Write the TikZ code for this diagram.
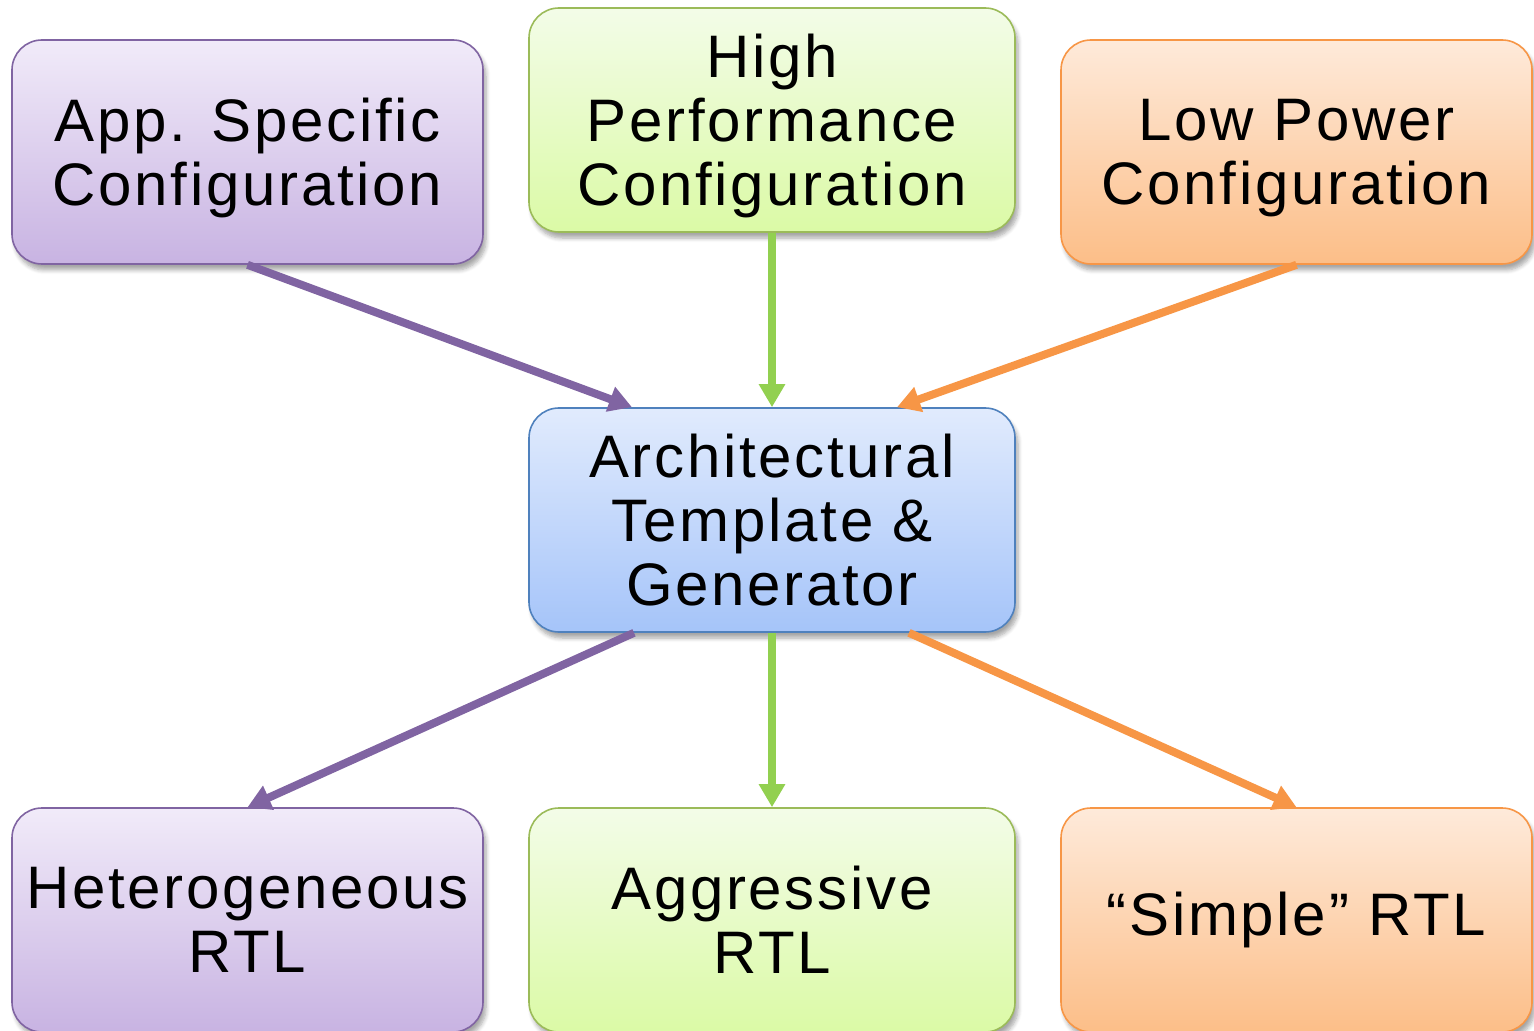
\documentclass[tikz,border=0pt]{standalone}
\usepackage{fontspec}
\setmainfont{Liberation Sans}[LetterSpace=4.5]
\usetikzlibrary{arrows.meta,shadows.blur}

\definecolor{purpLine}{HTML}{8064A2}
\definecolor{purpTop}{HTML}{F1EBF9}
\definecolor{purpBot}{HTML}{C8B3E2}
\definecolor{grnLine}{HTML}{9BBB59}
\definecolor{grnArrow}{HTML}{92D050}
\definecolor{grnTop}{HTML}{F3FCE8}
\definecolor{grnBot}{HTML}{DBFAA6}
\definecolor{orgLine}{HTML}{F79646}
\definecolor{orgTop}{HTML}{FEEADA}
\definecolor{orgBot}{HTML}{FCBE88}
\definecolor{bluLine}{HTML}{4F81BD}
\definecolor{bluTop}{HTML}{E1EBFD}
\definecolor{bluBot}{HTML}{A5C4F9}

\tikzset{
  box/.style={rectangle, rounded corners=15pt, line width=0.8pt,
    minimum width=#1, minimum height=112pt, align=center, inner sep=0pt,
    font=\fontsize{30}{32}\selectfont,
    blur shadow={shadow xshift=1.5pt, shadow yshift=-3pt,
      shadow blur steps=6, shadow opacity=35}},
  box/.default=235.5pt,
  purpbox/.style={box, draw=purpLine, top color=purpTop, bottom color=purpBot},
  grnbox/.style={box=243pt, draw=grnLine, top color=grnTop, bottom color=grnBot},
  orgbox/.style={box, draw=orgLine, top color=orgTop, bottom color=orgBot},
  blubox/.style={box=243pt, draw=bluLine, top color=bluTop, bottom color=bluBot},
  boxtext/.style={align=center, inner sep=0pt, font=\fontsize{30}{32}\selectfont},
  conn/.style={line width=4pt, -{Triangle[length=11.5pt,width=12.5pt]}},
}

\begin{document}
\begin{tikzpicture}[x=0.5pt,y=-0.5pt]
\useasboundingbox (0,0) rectangle (1534,1031);

% configuration inputs
\node[purpbox] (app)  at (247.5,152) {};
\node[grnbox]  (high) at (772,120)   {};
\node[orgbox]  (low)  at (1296.5,152) {};
\node[boxtext] (appT)  at ([yshift=-3pt]app.center)  {App. Specific\\Configuration};
\node[boxtext] (highT) at ([yshift=-3pt]high.center) {High\\Performance\\Configuration};
\node[boxtext] (lowT)  at ([yshift=-3pt]low.center)  {Low Power\\Configuration};

% generator
\node[blubox]  (core) at (772,520) {Architectural\\Template \&\\Generator};

% generated RTL
\node[purpbox] (het)  at (247.5,920) {Heterogeneous\\RTL};
\node[grnbox]  (agg)  at (772,920)   {Aggressive\\RTL};
\node[orgbox]  (simp) at (1296.5,920) {\raisebox{-10pt}{“Simple” RTL}};

% connectors into the generator
\draw[conn, purpLine] (app.south) -- ([xshift=-70pt]core.north);
\draw[conn, grnArrow] (high.south) -- (core.north);
\draw[conn, orgLine]  (low.south) -- ([xshift=62.5pt]core.north);

% connectors out of the generator
\draw[conn, purpLine] ([xshift=-69pt]core.south) -- (het.north);
\draw[conn, grnArrow] (core.south) -- (agg.north);
\draw[conn, orgLine]  ([xshift=68.5pt]core.south) -- (simp.north);
\end{tikzpicture}
\end{document}
